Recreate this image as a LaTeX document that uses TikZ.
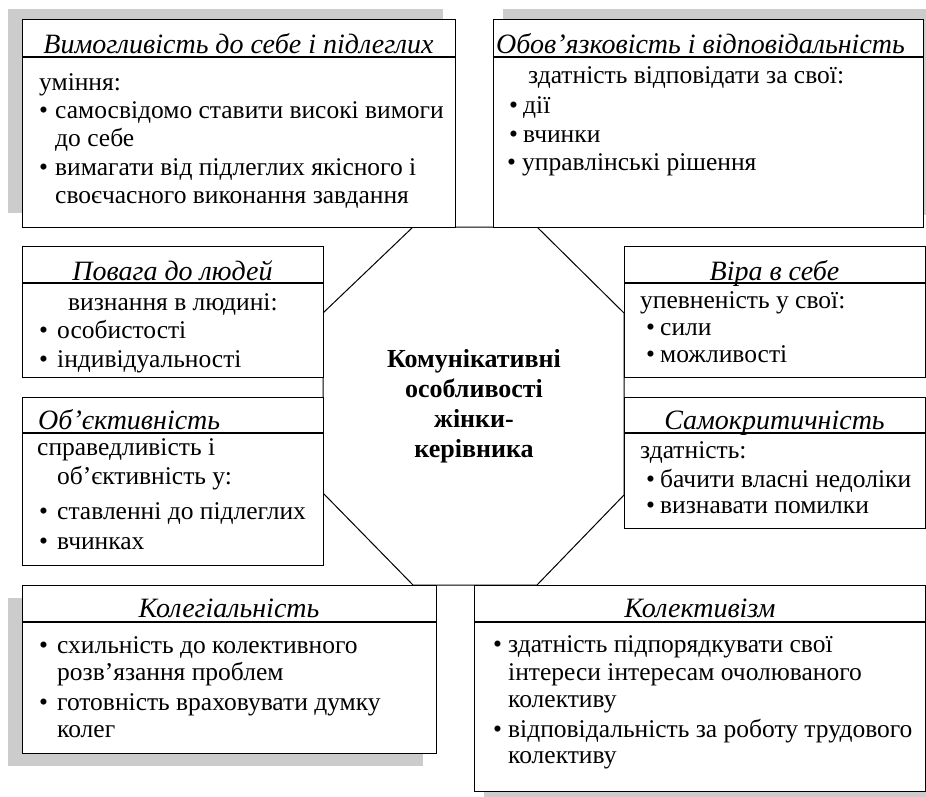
\documentclass[tikz,border=0pt]{standalone}
\usepackage{fontspec}
\setmainfont{Liberation Serif}
\begin{document}
\begin{tikzpicture}[x=1pt,y=-1pt,
  box/.style={draw,line width=1.3pt,fill=white,inner sep=0,anchor=north west},
  sep/.style={line width=1.3pt},
  shd/.style={fill=gray!40,draw=none},
  octo/.style={line width=1pt},
  ttl/.style={font=\fontsize{28}{32}\selectfont\itshape,inner sep=0,anchor=base},
  ttlw/.style={font=\fontsize{28}{32}\selectfont\itshape,inner sep=0,anchor=base west},
  txt/.style={font=\fontsize{25.5}{30}\selectfont,inner sep=0,anchor=base west},
  ctr/.style={font=\fontsize{26}{30}\selectfont\bfseries,inner sep=0,anchor=base}]
\clip (0,0) rectangle (926,796);
\fill[white] (0,0) rectangle (926,796);
% shadows
\fill[shd] (8,9) rectangle (443,213);
\fill[shd] (503,9) rectangle (940,215);
\fill[shd] (8,598) rectangle (423,766);
\fill[shd] (484,600) rectangle (940,801);
% octagon
\coordinate (o1) at (413,227);
\coordinate (o2) at (537,227);
\coordinate (o3) at (624,313);
\coordinate (o4) at (624,495);
\coordinate (o5) at (537,585);
\coordinate (o6) at (413,585);
\coordinate (o7) at (323,493);
\coordinate (o8) at (323,313);
\draw[octo] (o1) -- (o2) -- (o3) -- (o4) -- (o5) -- (o6) -- (o7) -- (o8) -- cycle;
% boxes
\node[box,minimum width=433,minimum height=208] (A) at (22,19) {};
\node[box,minimum width=430,minimum height=208] (B) at (493,19) {};
\node[box,minimum width=301,minimum height=131] (C) at (22,246) {};
\node[box,minimum width=301,minimum height=168] (D) at (22,397) {};
\node[box,minimum width=301,minimum height=131] (E) at (624,246) {};
\node[box,minimum width=301,minimum height=131] (F) at (624,397) {};
\node[box,minimum width=414,minimum height=168] (G) at (22,585) {};
\node[box,minimum width=451,minimum height=206] (H) at (474,585) {};
% title separators
\draw[sep] (A.west |- 0,57) -- (A.east |- 0,57);
\draw[sep] (B.west |- 0,57) -- (B.east |- 0,57);
\draw[sep] (C.west |- 0,283) -- (C.east |- 0,283);
\draw[sep] (D.west |- 0,433) -- (D.east |- 0,433);
\draw[sep] (E.west |- 0,283) -- (E.east |- 0,283);
\draw[sep] (F.west |- 0,433) -- (F.east |- 0,433);
\draw[sep] (G.west |- 0,622) -- (G.east |- 0,622);
\draw[sep] (H.west |- 0,622) -- (H.east |- 0,622);
% A
\node[ttl] (at) at (238.5,53) {Вимогливість до себе і підлеглих};
\node[txt] (a1) at (39,90) {уміння:};
\node[txt] (a2b) at (39,118) {•};
\node[txt] (a2) at (55,118) {самосвідомо ставити високі вимоги};
\node[txt] (a3) at (55,146) {до себе};
\node[txt] (a4b) at (39,175) {•};
\node[txt] (a4) at (55,175) {вимагати від підлеглих якісного і};
\node[txt] (a5) at (55,203) {своєчасного виконання завдання};
% B
\node[ttlw] (bt) at (496,53) {Обов’язковість і відповідальність};
\node[txt] (b1) at (528,83) {здатність відповідати за свої:};
\node[txt] (b2b) at (509,113) {•};
\node[txt] (b2) at (523,113) {дії};
\node[txt] (b3b) at (509,142) {•};
\node[txt] (b3) at (523,142) {вчинки};
\node[txt] (b4b) at (507,170) {•};
\node[txt] (b4) at (522,170) {управлінські рішення};
% C
\node[ttl] (ct) at (172.5,280) {Повага до людей};
\node[txt] (c1) at (68,310) {визнання в людині:};
\node[txt] (c2b) at (39,338) {•};
\node[txt] (c2) at (57,338) {особистості};
\node[txt] (c3b) at (39,367) {•};
\node[txt] (c3) at (57,367) {індивідуальності};
% D
\node[ttlw] (dt) at (38,429) {Об’єктивність};
\node[txt] (d1) at (37,455) {справедливість і};
\node[txt] (d2) at (57,484) {об’єктивність у:};
\node[txt] (d3b) at (39,519) {•};
\node[txt] (d3) at (57,519) {ставленні до підлеглих};
\node[txt] (d4b) at (39,549) {•};
\node[txt] (d4) at (57,549) {вчинках};
% E
\node[ttl] (et) at (774.5,280) {Віра в себе};
\node[txt] (e1) at (640,308) {упевненість у свої:};
\node[txt] (e2b) at (646,335) {•};
\node[txt] (e2) at (660,335) {сили};
\node[txt] (e3b) at (646,362) {•};
\node[txt] (e3) at (660,362) {можливості};
% F
\node[ttl] (ft) at (774.5,429) {Самокритичність};
\node[txt] (f1) at (640,458) {здатність:};
\node[txt] (f2b) at (646,487) {•};
\node[txt] (f2) at (660,487) {бачити власні недоліки};
\node[txt] (f3b) at (646,513) {•};
\node[txt] (f3) at (660,513) {визнавати помилки};
% G
\node[ttl] (gt) at (229,617) {Колегіальність};
\node[txt] (g1b) at (39,653) {•};
\node[txt] (g1) at (57,653) {схильність до колективного};
\node[txt] (g2) at (57,680) {розв’язання проблем};
\node[txt] (g3b) at (39,710) {•};
\node[txt] (g3) at (57,710) {готовність враховувати думку};
\node[txt] (g4) at (57,737) {колег};
% H
\node[ttl] (ht) at (700,617) {Колективізм};
\node[txt] (h1b) at (493,652) {•};
\node[txt] (h1) at (508,652) {здатність підпорядкувати свої};
\node[txt] (h2) at (508,680) {інтереси інтересам очолюваного};
\node[txt] (h3) at (508,707) {колективу};
\node[txt] (h4b) at (493,737) {•};
\node[txt] (h4) at (508,737) {відповідальність за роботу трудового};
\node[txt] (h5) at (508,763) {колективу};
% centre
\node[ctr] (m1) at (474,367) {Комунікативні};
\node[ctr] (m2) at (474,397) {особливості};
\node[ctr] (m3) at (474,427) {жінки-};
\node[ctr] (m4) at (474,457) {керівника};
\end{tikzpicture}
\end{document}
